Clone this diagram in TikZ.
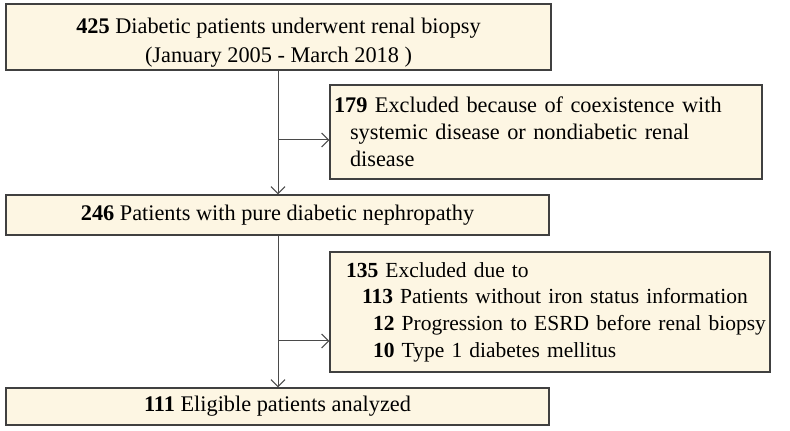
\documentclass[tikz,border=0pt]{standalone}
\usepackage{fontspec}
\setmainfont{Liberation Serif}
\usetikzlibrary{arrows.meta}
\definecolor{boxfill}{HTML}{FDF6E3}
\definecolor{boxline}{HTML}{404040}
\definecolor{flowline}{HTML}{4A4A4A}
\begin{document}
\begin{tikzpicture}[x = 1pt, y = 1pt,
  flowbox/.style = {draw = boxline, line width = 1.4pt, fill = boxfill, inner sep = 0pt,
    font = \fontsize{22.3}{27}\selectfont},
  flowarrow/.style = {draw = flowline, line width = 1pt, -{Straight Barb[length = 7pt, width = 14pt]}}]
\useasboundingbox (0, 0) rectangle (790, 431);

\node[flowbox, minimum width = 545, minimum height = 66, align = center,
  font = \fontsize{22.3}{29}\selectfont] (start) at (278.5, 394) {\rule{0pt}{26pt}\textbf{425} Diabetic patients underwent renal biopsy\\(January 2005 - March 2018 )};
\node[flowbox, minimum width = 432, minimum height = 94, text width = 432, align = left] (excl1) at (546, 299) {\hspace*{4pt}\textbf{179} Excluded because of coexistence with\\\hspace*{20pt}systemic disease or nondiabetic renal\\\hspace*{20pt}disease};
\node[flowbox, minimum width = 543, minimum height = 40, align = center] (pure) at (277.5, 216) {\textbf{246} Patients with pure diabetic nephropathy};
\node[flowbox, minimum width = 440, minimum height = 120, text width = 440, align = left,
  font = \fontsize{21.5}{26.7}\selectfont] (excl2) at (550, 119) {\hspace*{16pt}\textbf{135} Excluded due to\\\hspace*{32pt}\textbf{113} Patients without iron status information\\\hspace*{43pt}\textbf{12} Progression to ESRD before renal biopsy\\\hspace*{43pt}\textbf{10} Type 1 diabetes mellitus};
\node[flowbox, minimum width = 543, minimum height = 37, align = center] (final) at (277.5, 24.5) {\textbf{111} Eligible patients analyzed};

\coordinate (split1) at (278, 291);
\coordinate (split2) at (278, 90);

\draw[flowarrow] (start.south -| split1) -- (pure.north -| split1);
\draw[flowarrow] (pure.south -| split2) -- (final.north -| split2);
\draw[flowarrow] (split1) -- (excl1.west |- split1);
\draw[flowarrow] (split2) -- (excl2.west |- split2);

\end{tikzpicture}
\end{document}
